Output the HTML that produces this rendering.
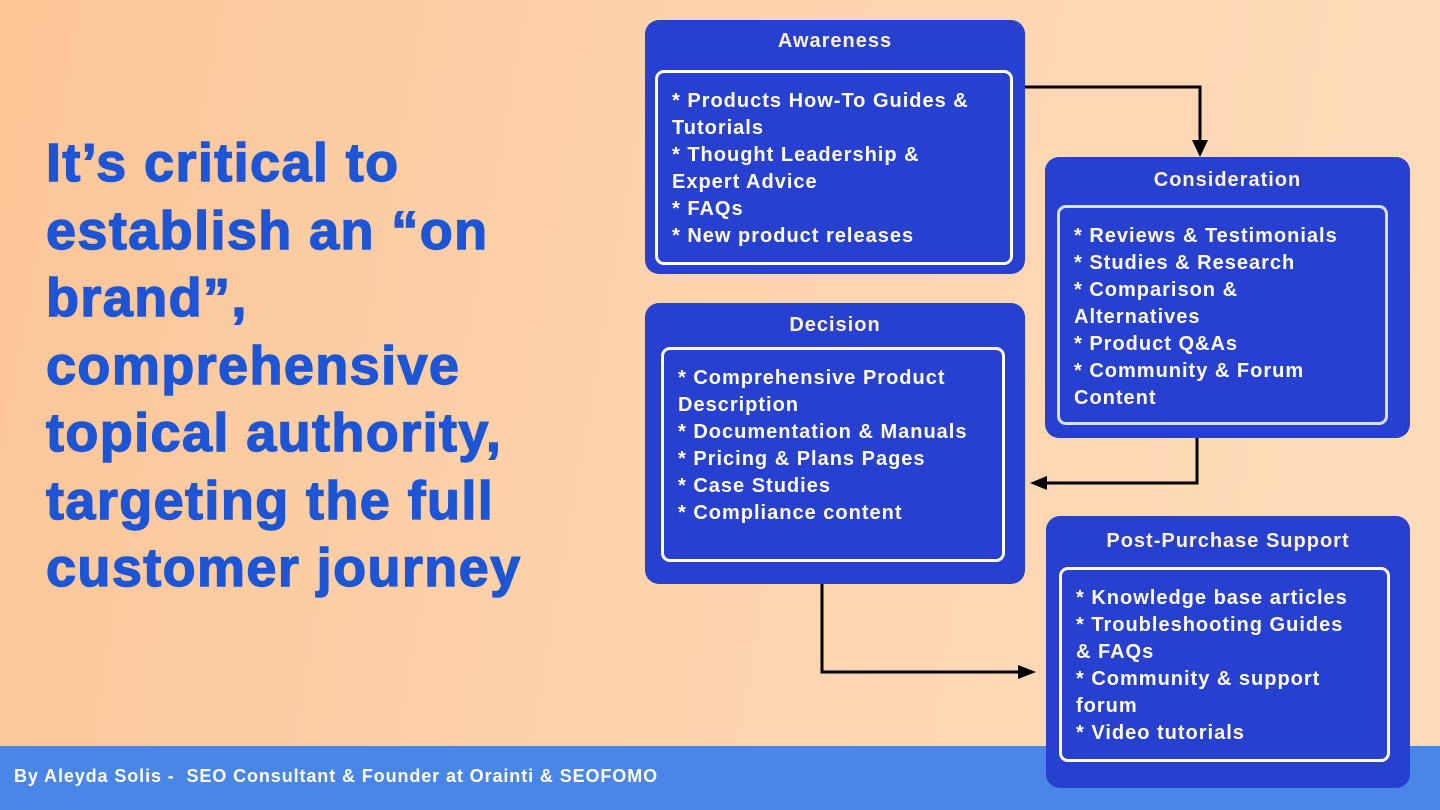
<!DOCTYPE html>
<html><head><meta charset="utf-8"><style>
body{margin:0;width:1440px;height:810px;overflow:hidden;position:relative;font-family:"Liberation Sans",sans-serif;background:linear-gradient(100deg,#fcc596 0%,#fdd3ad 45%,#fedcbb 100%);}
.h{position:absolute;left:46px;top:130px;font-size:54px;font-weight:900;color:#1d55d4;line-height:67.5px;letter-spacing:1.4px;-webkit-text-stroke:1.4px #1d55d4}
.foot{position:absolute;left:0;top:746px;width:1440px;height:64px;background:#4a86e8}
.ft{position:absolute;left:14px;top:766px;font-size:18px;font-weight:bold;color:#fff;letter-spacing:0.9px}
.box{position:absolute;background:#2740cf;border-radius:14px}
.t{position:absolute;left:0;right:0;text-align:center;color:#fdf2dc;font-weight:bold;font-size:20px;letter-spacing:1px}
.in{position:absolute;border:3px solid #fff;border-radius:9px;box-sizing:border-box;color:#fff;font-weight:bold;font-size:20px;line-height:27px;padding:15px 14px;letter-spacing:1px;white-space:nowrap}
</style></head><body>
<div class="h">It’s critical to<br>establish an “on<br>brand”,<br>comprehensive<br>topical authority,<br>targeting the full<br>customer journey</div>
<div class="foot"></div>
<div class="ft">By Aleyda Solis -&nbsp; SEO Consultant &amp; Founder at Orainti &amp; SEOFOMO</div>
<svg width="1440" height="810" style="position:absolute;left:0;top:0">
<g stroke="#000" stroke-width="3" fill="none">
<polyline points="1025,87 1200,87 1200,142"/>
<polyline points="1197,438 1197,483 1045,483"/>
<polyline points="822,584 822,672 1020,672"/>
</g>
<g fill="#000">
<polygon points="1192,140 1208,140 1200,157"/>
<polygon points="1047,476 1047,490 1030,483"/>
<polygon points="1018,665 1018,679 1036,672"/>
</g>
</svg>
<div class="box" style="left:645px;top:20px;width:380px;height:254px">
<div class="t" style="top:10px">Awareness</div>
<div class="in" style="left:10px;top:50px;width:358px;height:195px">* Products How-To Guides &amp;<br>Tutorials<br>* Thought Leadership &amp;<br>Expert Advice<br>* FAQs<br>* New product releases</div>
</div>
<div class="box" style="left:1045px;top:157px;width:365px;height:281px">
<div class="t" style="top:12px">Consideration</div>
<div class="in" style="left:12px;top:48px;width:331px;height:220px;border-color:#d8e0ff">* Reviews &amp; Testimonials<br>* Studies &amp; Research<br>* Comparison &amp;<br>Alternatives<br>* Product Q&amp;As<br>* Community &amp; Forum<br>Content</div>
</div>
<div class="box" style="left:645px;top:303px;width:380px;height:281px">
<div class="t" style="top:11px">Decision</div>
<div class="in" style="left:16px;top:44px;width:344px;height:215px">* Comprehensive Product<br>Description<br>* Documentation &amp; Manuals<br>* Pricing &amp; Plans Pages<br>* Case Studies<br>* Compliance content</div>
</div>
<div class="box" style="left:1046px;top:516px;width:364px;height:272px">
<div class="t" style="top:14px">Post-Purchase Support</div>
<div class="in" style="left:13px;top:51px;width:331px;height:195px">* Knowledge base articles<br>* Troubleshooting Guides<br>&amp; FAQs<br>* Community &amp; support<br>forum<br>* Video tutorials</div>
</div>
</body></html>
